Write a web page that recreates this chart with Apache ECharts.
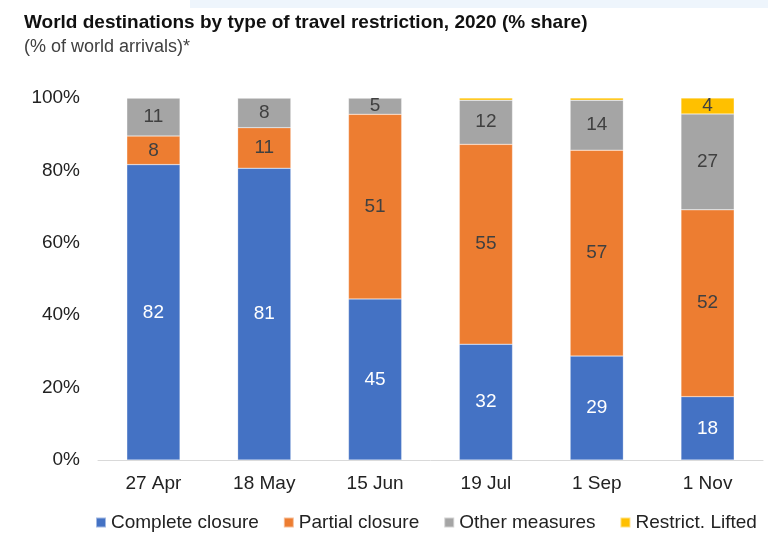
<!DOCTYPE html>
<html>
<head>
<meta charset="utf-8">
<script src="https://cdn.jsdelivr.net/npm/echarts@6/dist/echarts.min.js"></script>
<style>
  html, body { margin: 0; padding: 0; background: #fff; }
  #chart { width: 768px; height: 534px; }
</style>
</head>
<body>
<div id="chart"></div>
<script>
// dates of the survey rounds
var dates = ['27 Apr', '18 May', '15 Jun', '19 Jul', '1 Sep', '1 Nov'];
// share of world arrivals, %
var completeClosure = [81.6, 80.6, 44.5, 32.0, 28.7, 17.5];
var partialClosure  = [7.9, 11.2, 51.0, 55.2, 56.9, 51.6];
var otherMeasures   = [10.5, 8.2, 4.5, 12.2, 13.8, 26.5];
var restrictLifted  = [0, 0, 0, 0.6, 0.6, 4.4];
var yTicks = [0, 20, 40, 60, 80, 100];

var chart = echarts.init(document.getElementById('chart'));
var font = 'Liberation Sans, Arial, sans-serif';

function bar(name, data, color, labelColor) {
    return {
        name: name,
        type: 'bar',
        stack: 'total',
        barWidth: '48%',
        data: data,
        itemStyle: { color: color, borderColor: 'rgba(255,255,255,0.5)', borderWidth: 0.5 },
        label: {
            show: true,
            position: 'inside',
            color: labelColor,
            fontFamily: font,
            fontSize: 19,
            formatter: function (p) {
                return p.value >= 2 ? Math.round(p.value) : '';
            }
        }
    };
}

var option = {
    backgroundColor: '#fff',
    animation: false,
    textStyle: { fontFamily: font },
    graphic: [
        { type: 'rect', left: 190, top: 0, shape: { width: 578, height: 8 }, style: { fill: '#eef5fc' } }
    ],
    title: {
        text: 'World destinations by type of travel restriction, 2020 (% share)',
        subtext: '(% of world arrivals)*',
        left: 19,
        top: 8,
        itemGap: 6,
        textStyle: { fontFamily: font, fontSize: 19, fontWeight: 'bold', color: '#111' },
        subtextStyle: { fontFamily: font, fontSize: 18, color: '#404040' }
    },
    legend: {
        data: ['Complete closure', 'Partial closure', 'Other measures', 'Restrict. Lifted'],
        left: 95,
        right: 0,
        top: 513,
        padding: 0,
        itemWidth: 10,
        itemHeight: 10,
        itemGap: 24,
        icon: 'rect',
        textStyle: { fontFamily: font, fontSize: 19, color: '#222' }
    },
    grid: { left: 98, right: 5, top: 98, bottom: 74, containLabel: false },
    xAxis: {
        type: 'category',
        data: dates,
        axisTick: { show: false },
        axisLine: { lineStyle: { color: '#d9d9d9' } },
        axisLabel: { fontFamily: font, fontSize: 19, color: '#222', margin: 14 }
    },
    yAxis: {
        type: 'value',
        min: yTicks[0],
        max: yTicks[yTicks.length - 1],
        interval: 20,
        splitLine: { show: false },
        axisLine: { show: false },
        axisTick: { show: false },
        axisLabel: { fontFamily: font, fontSize: 19, color: '#222', margin: 18, formatter: '{value}%' }
    },
    series: [
        bar('Complete closure', completeClosure, '#4472C4', '#fff'),
        bar('Partial closure', partialClosure, '#ED7D31', '#404040'),
        bar('Other measures', otherMeasures, '#A5A5A5', '#404040'),
        bar('Restrict. Lifted', restrictLifted, '#FFC000', '#404040')
    ]
};
chart.setOption(option);
</script>
</body>
</html>
